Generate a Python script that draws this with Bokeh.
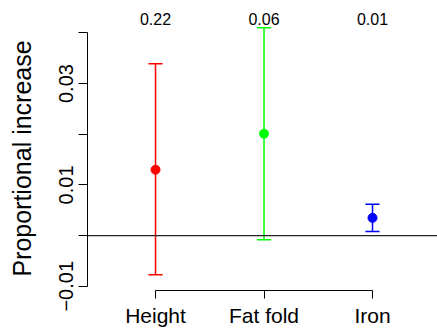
from bokeh.plotting import figure
from bokeh.models import ColumnDataSource, Range1d, FixedTicker, Span, LinearAxis
from bokeh.embed import file_html
from bokeh.resources import INLINE

categories = ["Height", "Fat fold", "Iron"]
estimates = [0.0130, 0.0201, 0.0035]
lower = [-0.0077, -0.0008, 0.0008]
upper = [0.0339, 0.0410, 0.0062]
p_values = ["0.22", "0.06", "0.01"]
colors = ["#FF0000", "#00FF00", "#0000FF"]
y_ticks = [-0.01, 0, 0.01, 0.02, 0.03, 0.04]
y_tick_labels = ["\u22120.01", "", "0.01", "", "0.03", ""]

FONT = "Liberation Sans"
xs = list(range(1, len(categories) + 1))
cap = 0.065
src = ColumnDataSource(dict(
    x=xs, est=estimates, lo=lower, hi=upper, cl=colors,
    x0=[x - cap for x in xs], x1=[x + cap for x in xs]))

p = figure(width=437, height=329, output_backend="svg", toolbar_location=None,
           x_range=Range1d(0.373, 3.599), y_range=Range1d(-0.01083, 0.04126),
           min_border_left=87, min_border_right=0, min_border_top=26, min_border_bottom=37)
p.outline_line_color = None
p.grid.visible = False
p.background_fill_color = "white"
p.border_fill_color = "white"

p.add_layout(Span(location=0, dimension="width", line_color="#222222", line_width=1.2))

p.segment(x0="x", y0="lo", x1="x", y1="hi", line_color="cl", line_width=1.5, source=src)
p.segment(x0="x0", y0="hi", x1="x1", y1="hi", line_color="cl", line_width=1.5, source=src)
p.segment(x0="x0", y0="lo", x1="x1", y1="lo", line_color="cl", line_width=1.5, source=src)
p.scatter(x="x", y="est", size=9, fill_color="cl", line_color="cl", source=src)

# y axis
ya = p.yaxis[0]
ya.ticker = FixedTicker(ticks=y_ticks)
ya.major_label_overrides = dict(zip(y_ticks, y_tick_labels))
ya.bounds = (y_ticks[0], y_ticks[-1])
ya.major_tick_in = 0
ya.major_tick_out = 9
ya.minor_tick_out = 0
ya.minor_tick_in = 0
ya.major_label_orientation = "vertical"
ya.major_label_standoff = 5
ya.major_label_text_font = FONT
ya.major_label_text_font_size = "20px"
ya.major_label_text_color = "black"
ya.axis_line_color = "black"
ya.major_tick_line_color = "black"
ya.axis_label = "Proportional increase"
ya.axis_label_text_font = FONT
ya.axis_label_text_font_size = "25px"
ya.axis_label_text_font_style = "normal"
ya.axis_label_text_color = "black"
ya.axis_label_standoff = 21

# x axis (categories)
xa = p.xaxis[0]
xa.ticker = FixedTicker(ticks=xs)
xa.major_label_overrides = dict(zip(xs, categories))
xa.bounds = (xs[0], xs[-1])
xa.major_tick_in = 0
xa.major_tick_out = 8
xa.minor_tick_out = 0
xa.minor_tick_in = 0
xa.major_label_standoff = 5
xa.major_label_text_font = FONT
xa.major_label_text_font_size = "21px"
xa.major_label_text_color = "black"
xa.axis_line_color = "black"
xa.major_tick_line_color = "black"

# top labels (p-values)
top = LinearAxis(ticker=FixedTicker(ticks=xs),
                 major_label_overrides=dict(zip(xs, p_values)),
                 axis_line_color=None, major_tick_line_color=None,
                 minor_tick_line_color=None, major_tick_in=0, major_tick_out=0,
                 major_label_standoff=2, major_label_text_font=FONT,
                 major_label_text_font_size="16px", major_label_text_color="black")
p.add_layout(top, "above")

open("out.html", "w").write(file_html(p, INLINE))
